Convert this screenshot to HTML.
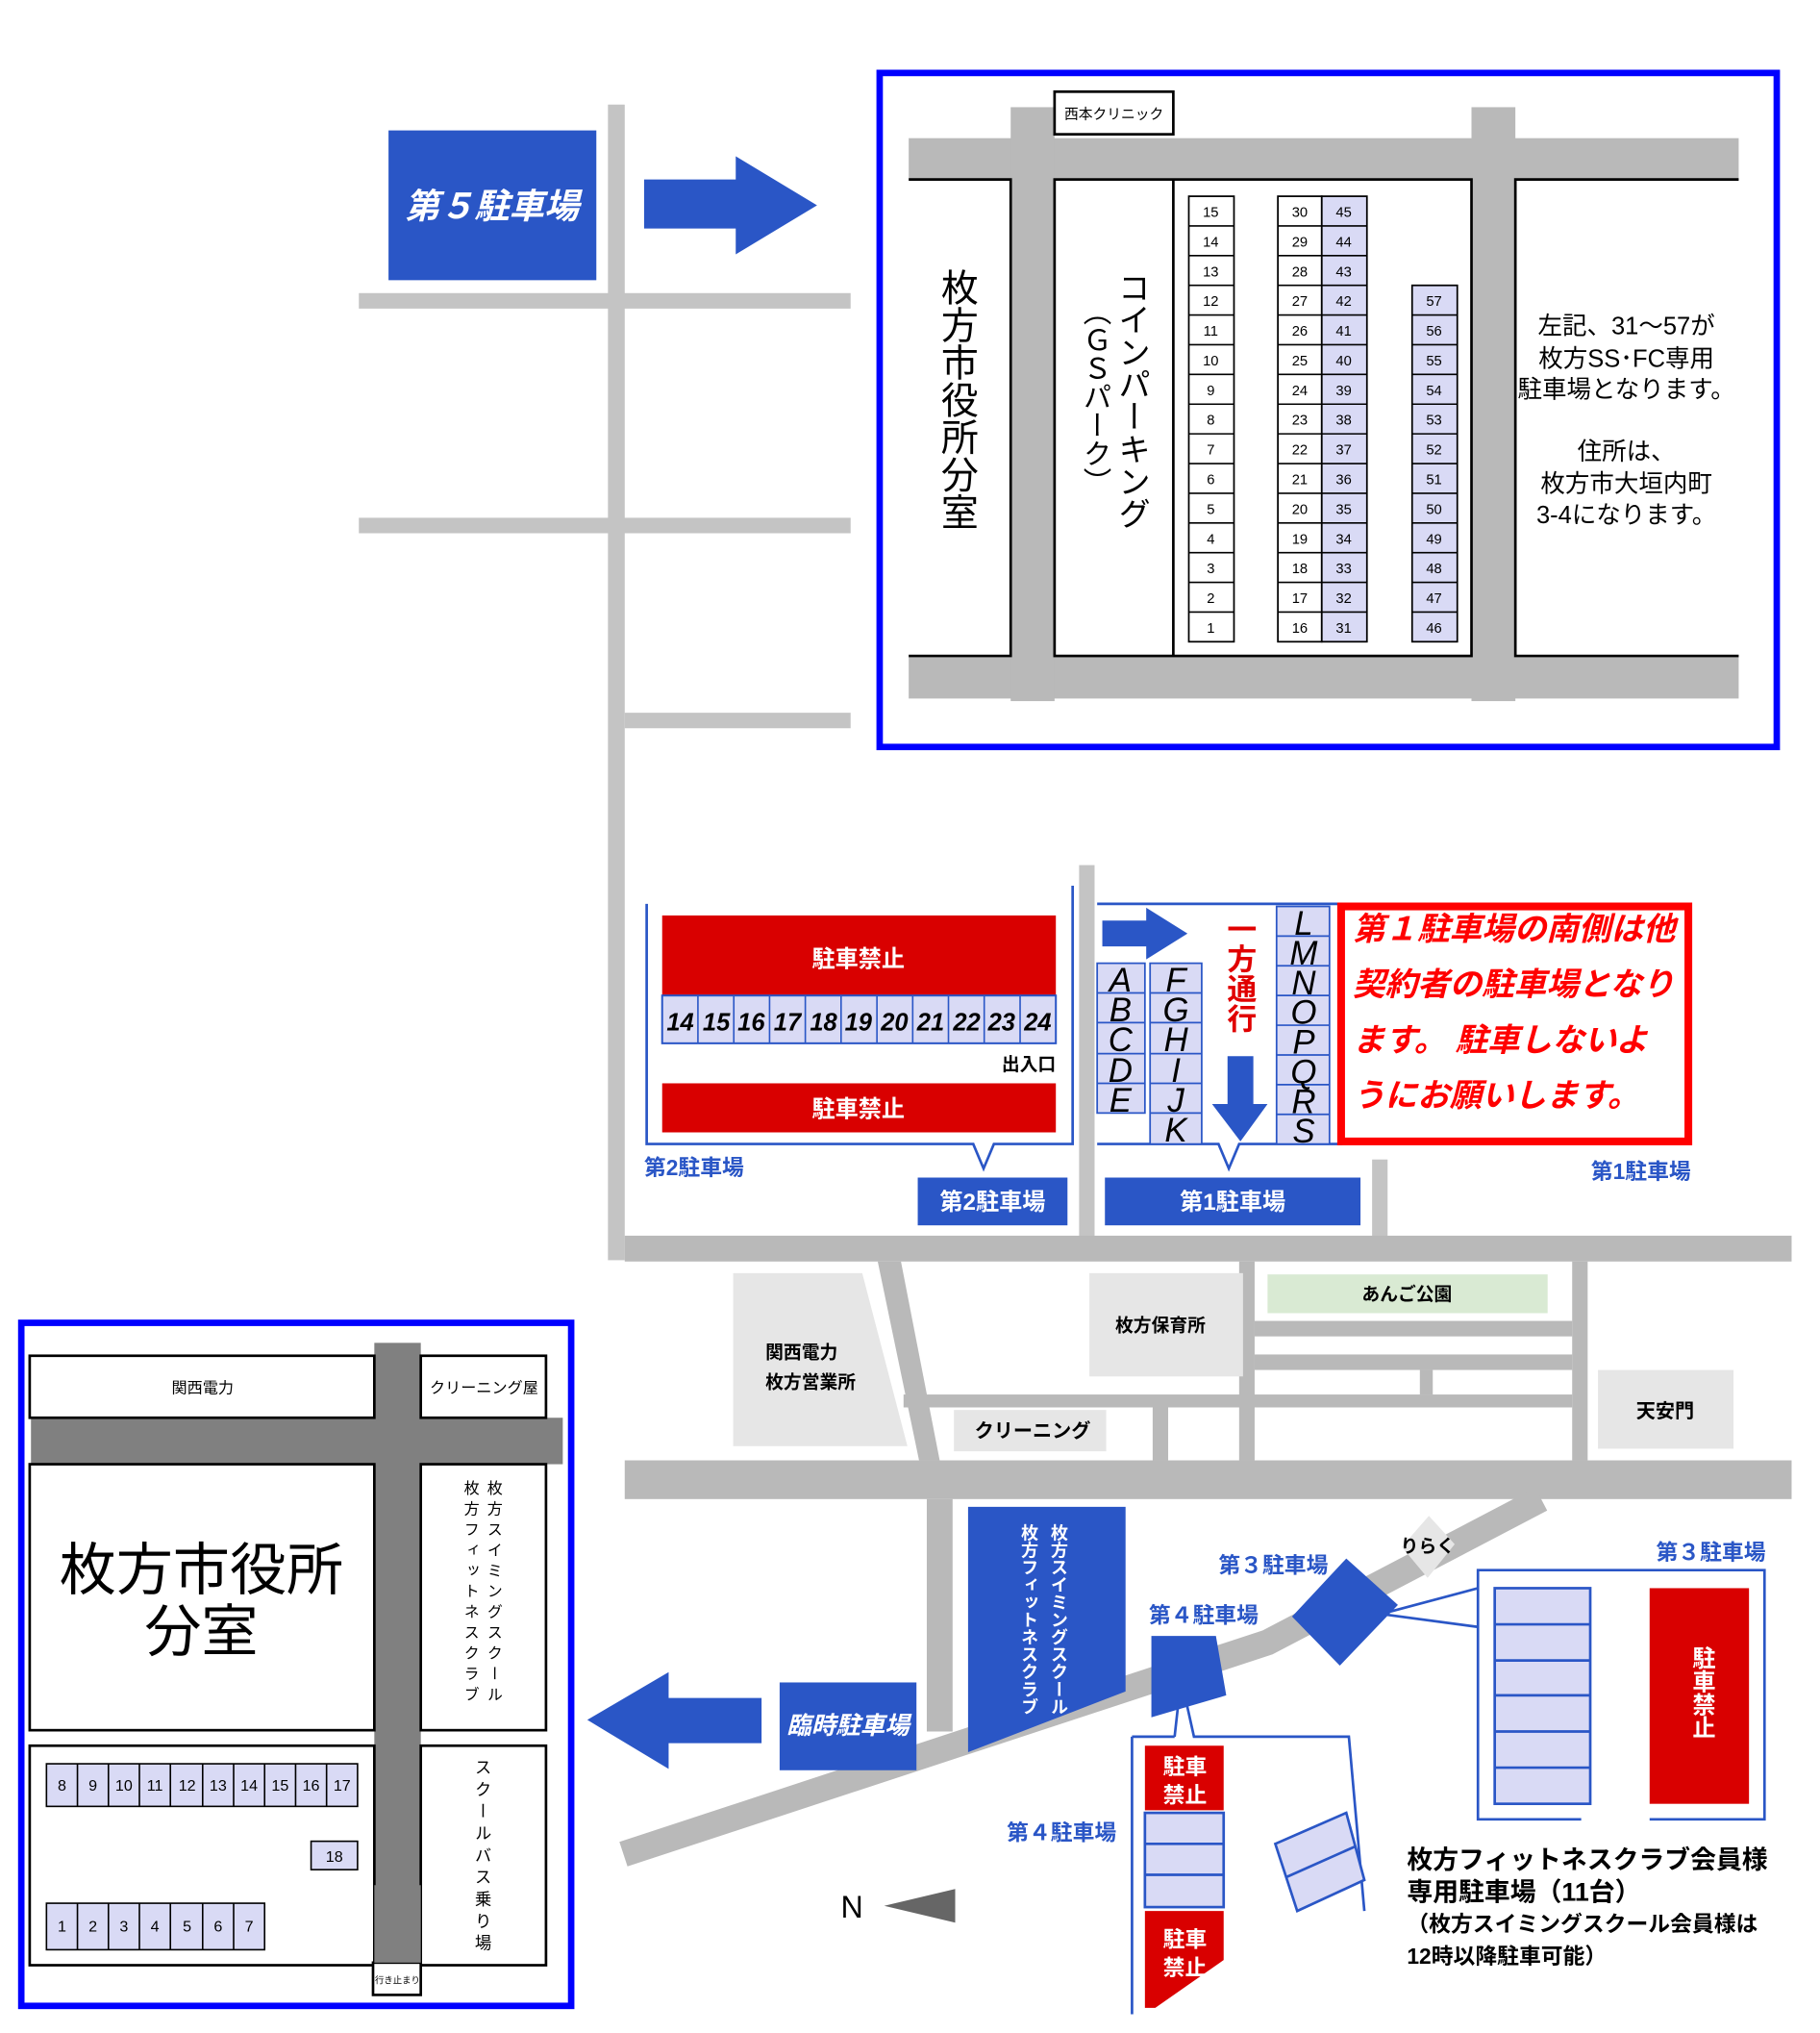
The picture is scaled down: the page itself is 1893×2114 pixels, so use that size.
<!DOCTYPE html>
<html><head><meta charset="utf-8"><style>
html,body{margin:0;padding:0;background:#fff;}
svg{display:block;}
text{font-family:"Liberation Sans","Noto Sans CJK JP",sans-serif;}
.v{writing-mode:vertical-rl;}
</style></head><body>
<svg width="1893" height="2114" viewBox="0 0 1410 1574.5" preserveAspectRatio="none" xmlns="http://www.w3.org/2000/svg">
<rect width="1410" height="1575" fill="#fff"/>

<!-- top-left roads -->
<g fill="#c4c4c4">
<rect x="471" y="81" width="13" height="895"/>
<rect x="278" y="227" width="381" height="12"/>
<rect x="278" y="401" width="381" height="12"/>
<rect x="484" y="552" width="175" height="12"/>
</g>
<rect x="301" y="101" width="161" height="116" fill="#2a56c6"/>
<text x="381" y="169" font-size="27" fill="#fff" font-style="italic" font-weight="bold" text-anchor="middle">第５駐車場</text>
<polygon points="499,139 570,139 570,121 633,159 570,197 570,177 499,177" fill="#2a56c6"/>

<!-- top-right map -->
<g fill="#b9b9b9">
<rect x="704" y="107" width="643" height="32"/>
<rect x="704" y="508" width="643" height="33"/>
<rect x="783" y="83" width="34" height="460"/>
<rect x="1140" y="83" width="34" height="460"/>
</g>
<rect x="817" y="71" width="92" height="33" fill="#fff" stroke="#000" stroke-width="2"/>
<text x="863" y="92" font-size="11" text-anchor="middle">西本クリニック</text>
<path d="M704,139 H783 V508 H704" fill="#fff" stroke="#000" stroke-width="2"/>
<text x="741" y="208" font-size="29" class="v">枚方市役所分室</text>
<rect x="817" y="139" width="323" height="369" fill="#fff" stroke="#000" stroke-width="2"/>
<line x1="909" y1="139" x2="909" y2="508" stroke="#000" stroke-width="2"/>
<text x="876" y="210" font-size="25" class="v">コインパーキング</text>
<text x="848" y="230" font-size="22" class="v">（ＧＳパーク）</text>
<path d="M1347,139 H1174 V508 H1347" fill="#fff" stroke="#000" stroke-width="2"/>
<g font-size="19" text-anchor="middle">
<text x="1260" y="259">左記、31～57が</text>
<text x="1260" y="284">枚方SS･FC専用</text>
<text x="1260" y="308">駐車場となります。</text>
<text x="1260" y="356">住所は、</text>
<text x="1260" y="381">枚方市大垣内町</text>
<text x="1260" y="405">3-4になります。</text>
</g>
<g stroke="#000" stroke-width="1.3">
<g fill="#fff">
<rect x="921" y="152" width="35" height="345"/>
<rect x="990" y="152" width="34" height="345"/>
</g>
<g fill="#d9daf5">
<rect x="1024" y="152" width="35" height="345"/>
<rect x="1094" y="221" width="35" height="276"/>
</g>
</g>
<g stroke="#000" stroke-width="1.2">
<path d="M921,175H956M921,198H956M921,221H956M921,244H956M921,267H956M921,290H956M921,313H956M921,336H956M921,359H956M921,382H956M921,405H956M921,428H956M921,451H956M921,474H956"/>
<path d="M990,175H1059M990,198H1059M990,221H1059M990,244H1059M990,267H1059M990,290H1059M990,313H1059M990,336H1059M990,359H1059M990,382H1059M990,405H1059M990,428H1059M990,451H1059M990,474H1059"/>
<path d="M1094,244H1129M1094,267H1129M1094,290H1129M1094,313H1129M1094,336H1129M1094,359H1129M1094,382H1129M1094,405H1129M1094,428H1129M1094,451H1129M1094,474H1129"/>
</g>
<g font-size="11" text-anchor="middle">
<text x="938" y="168">15</text><text x="938" y="191">14</text><text x="938" y="214">13</text><text x="938" y="237">12</text><text x="938" y="260">11</text><text x="938" y="283">10</text><text x="938" y="306">9</text><text x="938" y="329">8</text><text x="938" y="352">7</text><text x="938" y="375">6</text><text x="938" y="398">5</text><text x="938" y="421">4</text><text x="938" y="444">3</text><text x="938" y="467">2</text><text x="938" y="490">1</text>
<text x="1007" y="168">30</text><text x="1007" y="191">29</text><text x="1007" y="214">28</text><text x="1007" y="237">27</text><text x="1007" y="260">26</text><text x="1007" y="283">25</text><text x="1007" y="306">24</text><text x="1007" y="329">23</text><text x="1007" y="352">22</text><text x="1007" y="375">21</text><text x="1007" y="398">20</text><text x="1007" y="421">19</text><text x="1007" y="444">18</text><text x="1007" y="467">17</text><text x="1007" y="490">16</text>
<text x="1041" y="168">45</text><text x="1041" y="191">44</text><text x="1041" y="214">43</text><text x="1041" y="237">42</text><text x="1041" y="260">41</text><text x="1041" y="283">40</text><text x="1041" y="306">39</text><text x="1041" y="329">38</text><text x="1041" y="352">37</text><text x="1041" y="375">36</text><text x="1041" y="398">35</text><text x="1041" y="421">34</text><text x="1041" y="444">33</text><text x="1041" y="467">32</text><text x="1041" y="490">31</text>
<text x="1111" y="237">57</text><text x="1111" y="260">56</text><text x="1111" y="283">55</text><text x="1111" y="306">54</text><text x="1111" y="329">53</text><text x="1111" y="352">52</text><text x="1111" y="375">51</text><text x="1111" y="398">50</text><text x="1111" y="421">49</text><text x="1111" y="444">48</text><text x="1111" y="467">47</text><text x="1111" y="490">46</text>
</g>
<rect x="681.5" y="56.5" width="695" height="522" fill="none" stroke="#0000ff" stroke-width="5"/>

<!-- middle section -->
<rect x="836" y="670" width="12" height="292" fill="#c4c4c4"/>
<rect x="1063" y="898" width="12" height="62" fill="#c4c4c4"/>
<path d="M501,700 V886 H754 L762,905 L770,886 H831 V686" fill="none" stroke="#2a56c6" stroke-width="2"/>
<rect x="513" y="709" width="305" height="62" fill="#d90000"/>
<text x="665" y="749" font-size="18" font-weight="bold" fill="#fff" text-anchor="middle">駐車禁止</text>
<rect x="513" y="771" width="305" height="37" fill="#d9daf5" stroke="#2a56c6" stroke-width="1.5"/>
<g stroke="#2a56c6" stroke-width="1.2"><path d="M540.7,771V808M568.5,771V808M596.2,771V808M623.9,771V808M651.6,771V808M679.4,771V808M707.1,771V808M734.8,771V808M762.5,771V808M790.3,771V808"/></g>
<g font-size="19" font-style="italic" font-weight="bold" text-anchor="middle">
<text x="527" y="798">14</text><text x="555" y="798">15</text><text x="582" y="798">16</text><text x="610" y="798">17</text><text x="638" y="798">18</text><text x="665" y="798">19</text><text x="693" y="798">20</text><text x="721" y="798">21</text><text x="749" y="798">22</text><text x="776" y="798">23</text><text x="804" y="798">24</text>
</g>
<text x="818" y="829" font-size="14" font-weight="bold" text-anchor="end">出入口</text>
<rect x="513" y="839" width="305" height="38" fill="#d90000"/>
<text x="665" y="865" font-size="18" font-weight="bold" fill="#fff" text-anchor="middle">駐車禁止</text>
<text x="499" y="910" font-size="17" font-weight="bold" fill="#2a56c6">第2駐車場</text>
<rect x="711" y="912" width="116" height="37" fill="#2a56c6"/>
<text x="769" y="937" font-size="18" font-weight="bold" fill="#fff" text-anchor="middle">第2駐車場</text>

<path d="M1040,700 H850 M850,886 H944 L952,905 L960,886 H1040" fill="none" stroke="#2a56c6" stroke-width="2"/>
<polygon points="854,713 888,713 888,703 920,723 888,743 888,733 854,733" fill="#2a56c6"/>
<g fill="#d9daf5" stroke="#2a56c6" stroke-width="1.3">
<rect x="850" y="746" width="37" height="116"/>
<rect x="891" y="746" width="40" height="140"/>
<rect x="989" y="702" width="41" height="184"/>
</g>
<g stroke="#2a56c6" stroke-width="1.3"><path d="M850,769H887M850,792H887M850,816H887M850,839H887M891,769H931M891,792H931M891,816H931M891,839H931M891,862H931M989,725H1030M989,748H1030M989,771H1030M989,794H1030M989,817H1030M989,840H1030M989,863H1030"/></g>
<g font-size="26" font-style="italic" text-anchor="middle">
<text x="868" y="768">A</text><text x="868" y="791">B</text><text x="868" y="814">C</text><text x="868" y="838">D</text><text x="868" y="861">E</text>
<text x="911" y="768">F</text><text x="911" y="791">G</text><text x="911" y="814">H</text><text x="911" y="838">I</text><text x="911" y="861">J</text><text x="911" y="884">K</text>
<text x="1010" y="724">L</text><text x="1010" y="747">M</text><text x="1010" y="770">N</text><text x="1010" y="793">O</text><text x="1010" y="816">P</text><text x="1010" y="839">Q</text><text x="1010" y="862">R</text><text x="1010" y="885">S</text>
</g>
<text x="960" y="708" font-size="23" font-weight="bold" fill="#e00000" class="v">一方通行</text>
<polygon points="951,818 971,818 971,855 982,855 961,884 939,855 951,855" fill="#2a56c6"/>
<rect x="1039" y="702" width="269" height="182" fill="#fff" stroke="#ff0000" stroke-width="6"/>
<g font-size="25" font-style="italic" font-weight="bold" fill="#ff0000">
<text x="1048" y="728">第１駐車場の南側は他</text>
<text x="1048" y="771">契約者の駐車場となり</text>
<text x="1048" y="814">ます。 駐車しないよ</text>
<text x="1048" y="857">うにお願いします。</text>
</g>
<rect x="856" y="912" width="198" height="37" fill="#2a56c6"/>
<text x="955" y="937" font-size="18" font-weight="bold" fill="#fff" text-anchor="middle">第1駐車場</text>
<text x="1310" y="913" font-size="17" font-weight="bold" fill="#2a56c6" text-anchor="end">第1駐車場</text>

<!-- bottom map -->
<g fill="#b9b9b9">
<rect x="484" y="957" width="904" height="20"/>
<rect x="484" y="1131" width="904" height="30"/>
<polygon points="680,977 698,977 728,1131 712,1131"/>
<rect x="960" y="977" width="12" height="154"/>
<rect x="1218" y="977" width="12" height="154"/>
<rect x="972" y="1023" width="246" height="12"/>
<rect x="972" y="1049" width="246" height="12"/>
<rect x="1100" y="1061" width="10" height="19"/>
<rect x="700" y="1080" width="518" height="10"/>
<rect x="893" y="1085" width="12" height="46"/>
<rect x="718" y="1161" width="20" height="180"/>
</g>
<polyline points="483,1436 982,1272 1194,1161" fill="none" stroke="#b9b9b9" stroke-width="20"/>
<polygon points="568,986 668,986 703,1120 568,1120" fill="#e6e6e6"/>
<text x="593" y="1052" font-size="14" font-weight="bold">関西電力</text>
<text x="593" y="1075" font-size="14" font-weight="bold">枚方営業所</text>
<rect x="844" y="986" width="119" height="80" fill="#e6e6e6"/>
<text x="899" y="1031" font-size="14" font-weight="bold" text-anchor="middle">枚方保育所</text>
<rect x="982" y="987" width="217" height="30" fill="#d9ead3"/>
<text x="1090" y="1007" font-size="14" font-weight="bold" text-anchor="middle">あんご公園</text>
<rect x="739" y="1092" width="118" height="32" fill="#e6e6e6"/>
<text x="800" y="1113" font-size="15" font-weight="bold" text-anchor="middle">クリーニング</text>
<rect x="1238" y="1061" width="105" height="61" fill="#e6e6e6"/>
<text x="1290" y="1098" font-size="15" font-weight="bold" text-anchor="middle">天安門</text>
<polygon points="750,1167 872,1167 872,1310 750,1357" fill="#2a56c6"/>
<text x="820" y="1180" font-size="13.5" font-weight="bold" fill="#fff" class="v">枚方スイミングスクール</text>
<text x="797" y="1180" font-size="13.5" font-weight="bold" fill="#fff" class="v">枚方フィットネスクラブ</text>
<polygon points="892,1267 942,1267 950,1313 892,1330" fill="#2a56c6"/>
<polygon points="1043,1207 1083,1243 1038,1290 1001,1252" fill="#2a56c6"/>
<polygon points="1107,1174 1127,1196 1106,1222 1086,1198" fill="#e6e6e6"/>
<text x="1106" y="1202" font-size="14" font-weight="bold" text-anchor="middle">りらく</text>
<text x="944" y="1218" font-size="17" font-weight="bold" fill="#2a56c6">第３駐車場</text>
<text x="890" y="1257" font-size="17" font-weight="bold" fill="#2a56c6">第４駐車場</text>
<text x="1283" y="1208" font-size="17" font-weight="bold" fill="#2a56c6">第３駐車場</text>
<path d="M1070,1250 L1145,1230 V1409 H1225 M1278,1409 H1367 V1216 H1145 V1230 M1070,1250 L1145,1260" fill="none" stroke="#2a56c6" stroke-width="2"/>
<rect x="1158" y="1230" width="74" height="167" fill="#d9daf5" stroke="#2a56c6" stroke-width="2"/>
<path d="M1158,1258H1232M1158,1286H1232M1158,1313H1232M1158,1341H1232M1158,1369H1232" stroke="#2a56c6" stroke-width="2"/>
<rect x="1278" y="1230" width="77" height="167" fill="#d90000"/>
<text x="1318" y="1275" font-size="18" font-weight="bold" fill="#fff" class="v">駐車禁止</text>
<path d="M910,1345 L915,1300 L925,1345 H1045 L1057,1480 M877,1345 H910 M877,1345 V1560" fill="none" stroke="#2a56c6" stroke-width="2"/>
<rect x="887" y="1352" width="61" height="50" fill="#d90000"/>
<text x="918" y="1374" font-size="17" font-weight="bold" fill="#fff" text-anchor="middle">駐車</text>
<text x="918" y="1396" font-size="17" font-weight="bold" fill="#fff" text-anchor="middle">禁止</text>
<rect x="887" y="1404" width="61" height="73" fill="#d9daf5" stroke="#2a56c6" stroke-width="2"/>
<path d="M887,1428H948M887,1452H948" stroke="#2a56c6" stroke-width="2"/>
<polygon points="887,1480 948,1480 948,1518 895,1555 887,1555" fill="#d90000"/>
<text x="918" y="1508" font-size="17" font-weight="bold" fill="#fff" text-anchor="middle">駐車</text>
<text x="918" y="1530" font-size="17" font-weight="bold" fill="#fff" text-anchor="middle">禁止</text>
<polygon points="988,1428 1043,1404 1057,1456 1005,1480" fill="#d9daf5" stroke="#2a56c6" stroke-width="2"/>
<line x1="996" y1="1454" x2="1050" y2="1430" stroke="#2a56c6" stroke-width="2"/>
<text x="780" y="1425" font-size="17" font-weight="bold" fill="#2a56c6">第４駐車場</text>
<g font-weight="bold">
<text x="1090" y="1447" font-size="20">枚方フィットネスクラブ会員様</text>
<text x="1090" y="1472" font-size="20">専用駐車場（11台）</text>
<text x="1090" y="1496" font-size="17">（枚方スイミングスクール会員様は</text>
<text x="1090" y="1521" font-size="17">12時以降駐車可能）</text>
</g>
<text x="660" y="1485" font-size="24" text-anchor="middle">N</text>
<polygon points="685,1476 740,1463 740,1489" fill="#666"/>
<polygon points="455,1332 518,1295 518,1315 590,1315 590,1350 518,1350 518,1370" fill="#2a56c6"/>
<rect x="604" y="1303" width="106" height="68" fill="#2a56c6"/>
<text x="657" y="1343" font-size="19" font-style="italic" font-weight="bold" fill="#fff" text-anchor="middle">臨時駐車場</text>

<!-- bottom-left map -->
<rect x="16.5" y="1024.5" width="426" height="529" fill="#fff" stroke="#0000ff" stroke-width="5"/>
<g fill="#808080">
<rect x="290" y="1040" width="36" height="482"/>
<rect x="24" y="1098" width="412" height="36"/>
</g>
<g fill="#fff" stroke="#000" stroke-width="2">
<rect x="23" y="1050" width="267" height="48"/>
<rect x="326" y="1050" width="97" height="48"/>
<rect x="23" y="1134" width="267" height="206"/>
<rect x="326" y="1134" width="97" height="206"/>
<rect x="23" y="1352" width="267" height="170"/>
<rect x="326" y="1352" width="97" height="170"/>
<rect x="289" y="1520" width="37" height="25"/>
</g>
<rect x="290" y="1460" width="36" height="60" fill="#808080"/>
<text x="157" y="1079" font-size="12" text-anchor="middle">関西電力</text>
<text x="375" y="1079" font-size="12" text-anchor="middle">クリーニング屋</text>
<text x="156" y="1231" font-size="44" text-anchor="middle">枚方市役所</text>
<text x="156" y="1279" font-size="44" text-anchor="middle">分室</text>
<text x="382" y="1146" font-size="12" letter-spacing="4" class="v">枚方スイミングスクール</text>
<text x="364" y="1146" font-size="12" letter-spacing="4" class="v">枚方フィットネスクラブ</text>
<text x="374" y="1362" font-size="13" letter-spacing="4" class="v">スクールバス乗り場</text>
<text x="308" y="1536" font-size="7" text-anchor="middle">行き止まり</text>
<g fill="#d9daf5" stroke="#000" stroke-width="1.2">
<rect x="36" y="1366" width="241" height="33"/>
<rect x="241" y="1426" width="36" height="22"/>
<rect x="36" y="1474" width="169" height="36"/>
</g>
<path d="M60,1366V1399M84,1366V1399M108,1366V1399M132,1366V1399M157,1366V1399M181,1366V1399M205,1366V1399M229,1366V1399M253,1366V1399M60,1474V1510M84,1474V1510M108,1474V1510M132,1474V1510M157,1474V1510M181,1474V1510" stroke="#000" stroke-width="1.2"/>
<g font-size="12" text-anchor="middle">
<text x="48" y="1387">8</text><text x="72" y="1387">9</text><text x="96" y="1387">10</text><text x="120" y="1387">11</text><text x="145" y="1387">12</text><text x="169" y="1387">13</text><text x="193" y="1387">14</text><text x="217" y="1387">15</text><text x="241" y="1387">16</text><text x="265" y="1387">17</text>
<text x="259" y="1442">18</text>
<text x="48" y="1496">1</text><text x="72" y="1496">2</text><text x="96" y="1496">3</text><text x="120" y="1496">4</text><text x="145" y="1496">5</text><text x="169" y="1496">6</text><text x="193" y="1496">7</text>
</g>
</svg>
</body></html>
